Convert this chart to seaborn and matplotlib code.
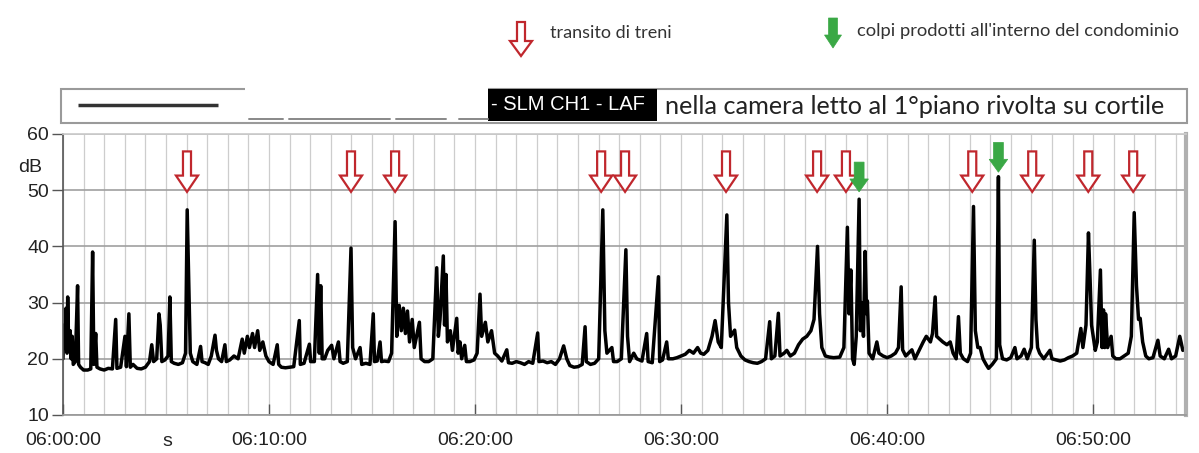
import numpy as np
import pandas as pd
import matplotlib
matplotlib.use("Agg")
import matplotlib.pyplot as plt
import seaborn as sns
from matplotlib.patches import FancyArrow, Rectangle

# LAF level, minutes after 06:00:00
t_min = [0.00, 0.05, 0.10, 0.15, 0.20, 0.23, 0.28, 0.35, 0.40, 0.45, 0.50, 0.60, 0.71, 0.76, 0.85,
         1.00, 1.20, 1.35, 1.44, 1.50, 1.59, 1.65, 1.80, 2.00, 2.20, 2.40, 2.56, 2.62, 2.80,
         3.01, 3.08, 3.20, 3.27, 3.40, 3.60, 3.80, 4.00, 4.20, 4.31, 4.40, 4.55, 4.66, 4.72,
         4.80, 4.95, 5.10, 5.19, 5.26, 5.40, 5.60, 5.80, 5.95, 6.03, 6.10, 6.18, 6.30, 6.50,
         6.68, 6.75, 6.90, 7.05, 7.20, 7.38, 7.45, 7.55, 7.70, 7.86, 7.93, 8.10, 8.30, 8.50,
         8.70, 8.80, 8.95, 9.05, 9.20, 9.30, 9.45, 9.55, 9.70, 9.85, 10.00, 10.20, 10.40, 10.47,
         10.60, 10.80, 11.00, 11.20, 11.47, 11.52, 11.70, 11.96, 12.02, 12.20, 12.36, 12.44,
         12.51, 12.58, 12.70, 12.85, 13.04, 13.15, 13.37, 13.45, 13.60, 13.80, 13.98, 14.06,
         14.20, 14.42, 14.50, 14.70, 14.90, 15.06, 15.12, 15.25, 15.39, 15.46, 15.60, 15.80,
         15.95, 16.12, 16.20, 16.32, 16.42, 16.52, 16.62, 16.72, 16.82, 16.95, 17.05, 17.30,
         17.38, 17.55, 17.75, 17.95, 18.14, 18.22, 18.30, 18.46, 18.52, 18.59, 18.66, 18.80,
         18.90, 19.11, 19.18, 19.27, 19.35, 19.50, 19.58, 19.75, 19.95, 20.10, 20.24, 20.32,
         20.50, 20.62, 20.80, 20.95, 21.10, 21.30, 21.54, 21.62, 21.80, 22.00, 22.20, 22.40,
         22.60, 22.80, 23.04, 23.10, 23.30, 23.50, 23.70, 23.90, 24.10, 24.30, 24.45, 24.60,
         24.80, 25.00, 25.20, 25.34, 25.40, 25.60, 25.80, 26.00, 26.20, 26.30, 26.40, 26.64,
         26.72, 26.90, 27.10, 27.32, 27.40, 27.50, 27.70, 27.85, 28.10, 28.33, 28.40, 28.60,
         28.90, 28.96, 29.10, 29.30, 29.38, 29.60, 29.80, 30.00, 30.20, 30.40, 30.60, 30.80,
         30.95, 31.10, 31.30, 31.50, 31.65, 31.80, 31.95, 32.22, 32.30, 32.40, 32.60, 32.70,
         32.90, 33.10, 33.30, 33.50, 33.70, 33.90, 34.10, 34.30, 34.38, 34.55, 34.72, 34.80,
         35.00, 35.13, 35.30, 35.50, 35.70, 35.90, 36.10, 36.30, 36.45, 36.62, 36.72, 36.83,
         37.00, 37.20, 37.40, 37.70, 37.90, 38.07, 38.15, 38.24, 38.32, 38.40, 38.50, 38.64,
         38.70, 38.77, 38.85, 38.93, 39.00, 39.04, 39.12, 39.30, 39.50, 39.60, 39.80, 40.00,
         40.20, 40.40, 40.55, 40.68, 40.75, 40.90, 41.20, 41.35, 41.55, 41.75, 41.90, 42.10,
         42.20, 42.33, 42.40, 42.55, 42.70, 42.90, 43.06, 43.20, 43.35, 43.46, 43.55, 43.70,
         43.90, 44.05, 44.19, 44.28, 44.40, 44.51, 44.65, 44.80, 44.92, 45.10, 45.30, 45.40,
         45.46, 45.60, 45.80, 46.00, 46.20, 46.30, 46.50, 46.65, 46.80, 47.00, 47.14, 47.22,
         47.30, 47.40, 47.60, 47.90, 48.00, 48.20, 48.40, 48.60, 48.80, 49.00, 49.20, 49.40,
         49.50, 49.65, 49.77, 49.85, 49.92, 50.10, 50.20, 50.35, 50.43, 50.50, 50.56, 50.60,
         50.70, 50.87, 50.95, 51.10, 51.30, 51.50, 51.70, 51.85, 51.99, 52.10, 52.20, 52.28,
         52.40, 52.55, 52.70, 52.90, 53.14, 53.25, 53.45, 53.66, 53.80, 54.00, 54.20, 54.35]
level_db = [20, 26, 22, 29, 21, 31, 22, 25, 20, 24, 19, 19.5, 33, 19, 18.5,
            18.0, 18.0, 18.2, 39, 19, 24.5, 18.5, 18.2, 18.0, 18.3, 18.2, 27, 18.3, 18.5,
            24, 18.6, 28, 18.5, 19, 18.3, 18.2, 18.5, 19.5, 22.5, 19.5, 20, 28, 26,
            19.5, 19.8, 20.5, 31, 19.5, 19.2, 19, 19.3, 21, 46.5, 35, 21, 19.5, 19,
            22.2, 19.5, 19.3, 19.0, 20.5, 24.2, 21.5, 20, 19.5, 22.5, 19.5, 19.8, 20.5, 20,
            23.5, 21, 24, 22, 24.5, 22, 25, 21.5, 23, 20.5, 19.5, 19, 22.5, 19,
            18.5, 18.4, 18.5, 18.6, 26.8, 19, 19.2, 22.6, 19.5, 19.5, 35, 21,
            33, 20, 20, 21.5, 22.4, 20, 23, 19.5, 19.2, 19.5, 39.7, 22,
            20, 22, 19, 19.2, 19, 28, 19.5, 19.6, 23, 19.5, 19.6, 19.5,
            21, 44.4, 24, 29.5, 25, 29, 24.5, 28.5, 23, 27, 22, 26.5,
            20, 19.5, 19.5, 20, 36.2, 24, 27, 38.3, 26, 35, 23, 25,
            21.5, 27.2, 21, 23, 20, 22.4, 19.5, 19.5, 19.8, 21, 31.5, 24,
            26.5, 23, 25, 21, 20.5, 19.6, 21.6, 19.3, 19.2, 19.5, 19.3, 19.0,
            19.5, 19.2, 24.6, 19.5, 19.6, 19.3, 19.5, 19.0, 20, 22.3, 20, 18.8,
            18.5, 18.6, 19, 25.7, 19.5, 19, 19.2, 20, 46.5, 25, 21, 22,
            19.5, 19.5, 20, 39.4, 24, 19.5, 21, 20, 19.6, 24.5, 19.5, 19.3,
            34.6, 19.5, 19.8, 23, 20, 20, 20.2, 20.5, 20.8, 21.5, 21, 22,
            21, 20.8, 21.5, 24, 26.8, 23, 22, 45.6, 30, 24, 25.1, 22,
            20.5, 19.8, 19.5, 19.3, 19.2, 19.5, 20, 26.6, 20, 20.5, 28.1, 20.5,
            21, 21.5, 20.5, 21, 22.5, 23.5, 24, 25, 27, 40, 28, 22,
            20.5, 20.3, 20.2, 20.3, 22, 43.4, 28, 35.8, 20, 19, 24, 48.4,
            25, 30, 24, 39.1, 28, 30.3, 21, 20, 23, 21, 20.5, 20.2,
            20.5, 21, 22, 32.8, 21.6, 20.5, 21.6, 20, 21.5, 23, 24, 23,
            24.5, 31, 24, 23.5, 23, 22.5, 23, 21, 20, 27.5, 21, 20,
            19.5, 21, 47.1, 25, 22, 22, 20, 19, 18.3, 19, 20, 52.4,
            22.5, 20, 19.8, 20.2, 22, 20, 20.5, 21.7, 20, 22, 41.1, 27,
            22, 21, 20, 21.5, 20, 19.8, 19.6, 19.8, 20.2, 20.5, 21, 25.4,
            22, 26, 42.4, 34, 26, 21.5, 23, 35.8, 22, 28.7, 22, 28,
            22, 24, 20.5, 20, 20, 20.5, 21, 24, 46, 33, 27, 27.2,
            23, 20.5, 20, 20.2, 23.3, 20.5, 20, 21.7, 20, 20.5, 24, 21.5]

# events marked with arrows
train_min = [6.02, 13.98, 16.12, 26.12, 27.28, 32.18, 36.6, 38.0, 44.13, 47.04, 49.76, 51.94]
knock_min = [38.64, 45.4]
knock_tip_db = [49.7, 53.2]

tick_min = [0, 10, 20, 30, 40, 50]
tick_labels = ['06:00:00', '06:10:00', '06:20:00', '06:30:00', '06:40:00', '06:50:00']
db_ticks = [10, 20, 30, 40, 50, 60]

RED = '#c0272d'
GREEN = '#3aa845'

sns.set_theme(style='white')
plt.rcParams['font.family'] = ['Liberation Sans', 'DejaVu Sans']

fig = plt.figure(figsize=(11.99, 4.53), dpi=100)
ax = fig.add_axes([0.0525, 0.0839, 0.9366, 0.6203])

df = pd.DataFrame({'t': t_min, 'db': level_db})
sns.lineplot(data=df, x='t', y='db', estimator=None, sort=False, color='black', lw=2.5, ax=ax)

ax.set_xlim(0, 54.5)
ax.set_ylim(10, 60)
ax.set_xticks(tick_min)
ax.set_xticklabels(tick_labels)
ax.set_xticks(np.arange(0, 55, 1), minor=True)
ax.set_yticks(db_ticks)
ax.set_xlabel('')
ax.set_ylabel('')
ax.grid(which='major', axis='y', color='#a0a0a0', lw=1.2)
ax.grid(which='both', axis='x', color='#cdcdcd', lw=0.9)
ax.tick_params(axis='x', which='major', direction='in', length=8, width=1, color='#555',
               labelsize=14, pad=12, labelcolor='#222', bottom=True)
ax.tick_params(axis='x', which='minor', length=0)
ax.tick_params(axis='y', direction='out', length=8, width=1, color='#555',
               labelsize=14, pad=2, labelcolor='#222', left=True)
ax.spines['left'].set_color('#555')
ax.spines['left'].set_linewidth(1.2)
ax.spines['bottom'].set_color('#999')
ax.spines['top'].set_color('#cccccc')
ax.spines['right'].set_color('#b0b0b0')
ax.spines['right'].set_linewidth(3)

# arrows over the peaks
for tm in train_min:
    ax.add_patch(FancyArrow(tm, 56.9, 0, -7.2, width=0.39, head_width=1.07, head_length=2.9,
                            length_includes_head=True, fc='white', ec=RED, lw=1.6, zorder=5))
for tm, tip in zip(knock_min, knock_tip_db):
    ax.add_patch(FancyArrow(tm, tip + 5.3, 0, -5.3, width=0.48, head_width=0.9, head_length=2.3,
                            length_includes_head=True, fc=GREEN, ec=GREEN, lw=0.5, zorder=6))

# overlay in pixel units for the header
ov = fig.add_axes([0, 0, 1, 1])
ov.set_xlim(0, 1199)
ov.set_ylim(453, 0)
ov.axis('off')
ov.patch.set_visible(False)

ov.add_patch(FancyArrow(521, 22, 0, 34, width=8, head_width=22, head_length=15,
                        length_includes_head=True, fc='white', ec=RED, lw=1.6))
ov.text(550, 33, 'transito di treni', fontsize=13, color='#333', va='center', family='Lato')
ov.add_patch(FancyArrow(833, 18, 0, 30, width=9, head_width=17, head_length=13,
                        length_includes_head=True, fc=GREEN, ec=GREEN, lw=0.5))
ov.text(857, 31, "colpi prodotti all'interno del condominio", fontsize=13.2, color='#333',
        va='center', family='Lato')

ov.add_patch(Rectangle((61, 89), 1126, 34, fc='white', ec='#9a9a9a', lw=1.5))
ov.plot([78, 218], [105, 105], color='#333', lw=2.5, solid_capstyle='butt')
ov.add_patch(Rectangle((245, 87), 243, 32, fc='white', ec='none'))
for x0, x1 in [(249, 283), (289, 390), (396, 446), (459, 488)]:
    ov.plot([x0, x1], [119, 119], color='#888', lw=1.4)
ov.add_patch(Rectangle((488, 89), 169, 32, fc='black', ec='none'))
ov.text(491, 105, '- SLM CH1 - LAF', fontsize=14.5, color='white', va='center')
ov.text(665, 106, 'nella camera letto al 1°piano rivolta su cortile', fontsize=18.2,
        color='#222', va='center', family='Lato')

ov.text(42, 167, 'dB', fontsize=14, color='#222', ha='right', va='center')
ov.text(167, 441, 's', fontsize=14, color='#222', ha='center', va='center')

fig.savefig('out.png', dpi=100)
